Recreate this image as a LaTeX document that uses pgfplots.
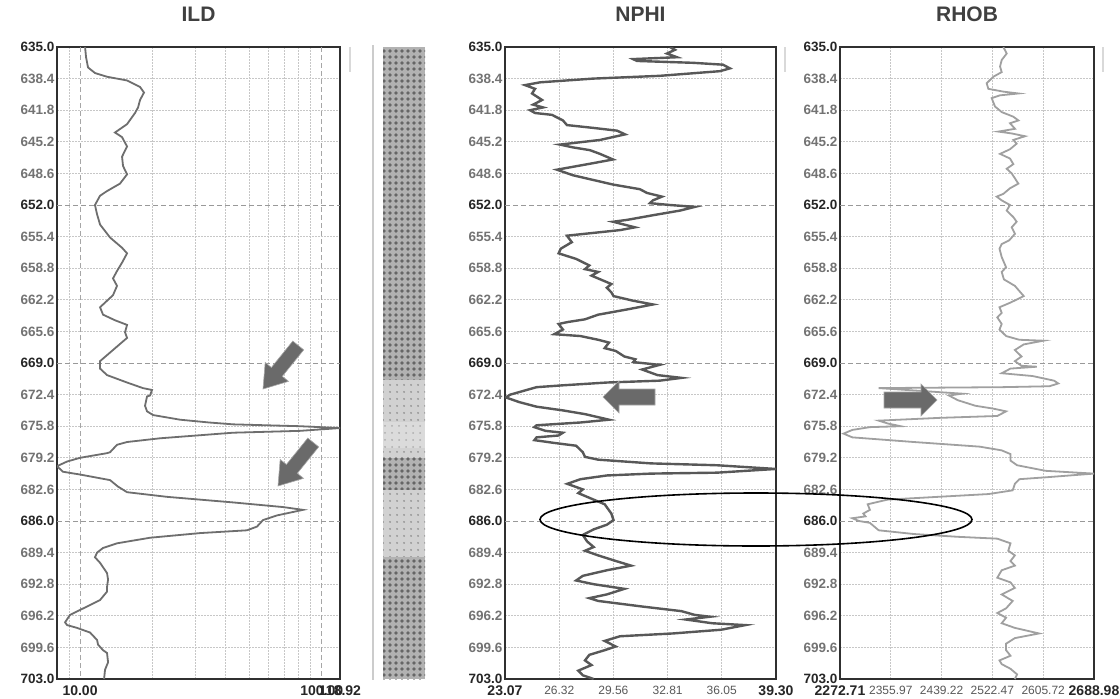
\documentclass[border=0pt]{standalone}
\usepackage{pgfplots}
\pgfplotsset{compat=1.18}
\usepackage{fontspec}
\setmainfont{Liberation Sans}
\usetikzlibrary{patterns.meta}
\definecolor{framec}{HTML}{303030}
\definecolor{ildc}{HTML}{6E6E6E}
\definecolor{nphic}{HTML}{585858}
\definecolor{rhobc}{HTML}{A0A0A0}
\definecolor{arrowc}{HTML}{6A6A6A}

\newcommand{\dk}[1]{{\color{black!85}#1}}
\newcommand{\bl}[1]{{\bfseries\fontsize{14}{16}\selectfont\color{black!85}#1}}
\newcommand{\rg}[1]{{\mdseries\fontsize{12}{14}\selectfont\color{black!65}#1}}

\pgfplotsset{
  welllog/.style={
    scale only axis, anchor=north west, height=632pt,
    y dir=reverse, ymin=635, ymax=703,
    axis line style={framec, line width=1.8pt},
    major tick length=0pt, minor tick length=0pt,
    ytick={635,638.4,641.8,645.2,648.6,655.4,658.8,662.2,665.6,672.4,675.8,679.2,682.6,689.4,692.8,696.2,699.6,703},
    yticklabels={\dk{635.0},638.4,641.8,645.2,648.6,655.4,658.8,662.2,665.6,672.4,675.8,679.2,682.6,689.4,692.8,696.2,699.6,\dk{703.0}},
    extra y ticks={652,669,686},
    extra y tick labels={\dk{652.0},\dk{669.0},\dk{686.0}},
    extra y tick style={grid=major, major grid style={black!40, line width=1pt, dash pattern=on 5pt off 3pt}},
    ymajorgrids,
    major grid style={black!22, line width=0.8pt, dash pattern=on 1.5pt off 1.5pt},
    minor grid style={black!22, line width=0.8pt, dash pattern=on 1.5pt off 1.5pt},
    /pgf/number format/assume math mode=true,
    yticklabel style={font=\bfseries\fontsize{13.5}{15}\selectfont, text=black!55, inner sep=2.5pt},
    xticklabel style={inner sep=6.5pt},
    title style={font=\bfseries\fontsize{21}{24}\selectfont, text=black!75, inner sep=0pt, yshift=19pt},
  }
}

\pgfplotstableread{
v d
10.49 635.0
10.59 636.1
10.79 637.2
11.53 637.8
12.93 638.2
15.65 638.6
17.71 639.3
18.39 639.9
17.71 640.7
17.38 641.5
16.88 642.1
15.65 643.3
13.95 644.2
14.92 644.7
15.65 645.7
14.92 646.8
15.06 647.8
15.65 648.7
14.63 649.7
12.93 650.5
12.10 651.0
11.53 652.0
11.76 653.0
12.10 654.1
13.31 655.5
14.92 656.6
15.65 657.2
14.92 658.2
14.22 659.1
13.69 659.9
14.22 660.7
13.69 661.7
12.10 663.0
12.45 663.8
13.95 664.4
15.65 664.9
15.35 665.7
15.65 666.3
13.69 667.6
12.10 668.8
12.10 669.6
12.93 670.3
15.65 671.1
18.20 671.7
19.85 671.9
19.48 672.5
18.93 672.6
18.57 673.6
18.93 674.2
20.05 674.6
25.93 675.1
34.17 675.4
42.94 675.6
81.25 675.8
118.9 676.0
81.25 676.3
42.94 676.5
21.42 677.1
15.65 677.5
14.22 677.8
13.31 678.6
12.93 678.7
10.00 679.2
8.84 679.6
8.03 680.1
8.50 680.7
10.00 681.0
13.31 681.6
14.36 682.3
15.65 682.9
22.90 683.4
42.94 684.0
69.11 684.5
83.60 684.8
65.27 685.4
57.13 685.9
53.95 686.6
49.06 687.0
31.36 687.3
19.48 687.8
14.22 688.4
12.45 688.9
11.76 689.4
11.53 689.9
12.10 690.5
12.93 691.6
13.06 692.3
12.93 693.1
12.93 693.6
12.10 694.5
10.69 695.2
9.09 696.1
8.67 696.9
8.84 697.2
9.72 697.5
11.00 698.0
11.76 698.8
11.87 699.3
12.45 699.9
12.93 700.2
13.06 701.2
12.69 702.0
12.57 703.0
}\ildtable

\pgfplotstableread{
v d
32.95 635.0
33.25 635.3
32.77 635.7
33.37 636.1
30.74 636.3
30.97 636.5
34.33 636.7
36.12 636.9
36.54 637.3
35.94 637.6
32.35 638.1
28.34 638.4
25.17 638.8
24.27 639.1
24.57 639.3
24.87 639.5
24.69 640.0
25.29 640.7
24.75 641.2
25.35 641.5
24.57 641.8
24.87 642.1
25.88 642.3
26.54 642.9
26.78 643.4
28.34 643.7
29.78 644.0
30.26 644.4
28.76 645.0
26.36 645.5
27.14 645.8
28.16 646.1
28.76 646.5
29.54 647.1
28.34 647.5
26.18 648.2
27.14 648.8
28.34 649.3
29.54 649.8
31.15 650.3
31.57 650.7
32.47 651.1
31.93 651.5
31.75 651.8
32.95 652.0
34.45 652.2
33.55 652.6
31.93 653.1
30.38 653.6
29.54 653.8
30.85 654.4
29.96 654.7
26.78 655.3
27.07 656.0
26.41 656.7
26.28 657.2
27.33 657.8
28.12 658.5
27.86 658.9
28.65 659.2
28.25 659.6
28.91 660.1
29.44 660.5
29.17 660.9
29.44 661.4
29.57 661.8
30.75 662.3
31.93 662.7
30.49 663.2
28.65 663.8
27.86 664.3
26.80 664.6
26.28 664.8
26.54 665.4
26.02 665.9
27.59 666.1
28.65 666.5
29.30 666.8
29.04 667.4
29.70 667.7
30.22 668.3
30.88 668.6
30.75 668.9
32.33 669.2
31.28 669.7
32.20 670.3
33.64 670.6
32.33 670.9
29.17 671.1
26.54 671.4
24.96 671.6
23.39 672.4
23.12 672.7
23.91 673.2
24.96 673.7
26.54 674.1
27.86 674.5
29.30 675.1
27.59 675.4
24.96 675.7
24.83 675.9
25.49 676.3
26.54 676.5
26.28 676.8
24.96 677.0
24.83 677.3
26.02 677.6
27.33 677.9
27.73 678.6
27.86 679.1
28.65 679.4
31.80 679.8
35.75 680.0
39.30 680.4
35.75 680.8
31.80 680.9
29.17 681.1
27.59 681.5
26.80 682.0
27.73 682.6
27.46 683.0
28.38 683.7
29.04 684.2
29.44 685.2
29.57 685.9
29.17 686.4
28.38 686.9
27.73 687.5
27.99 688.2
28.38 688.8
27.86 689.2
28.65 689.7
29.70 690.3
30.62 690.8
29.17 691.3
27.73 691.9
27.33 692.4
28.38 692.8
30.22 693.3
29.17 693.9
28.12 694.3
28.65 694.6
31.28 695.2
33.64 695.7
34.43 696.1
35.35 696.3
33.90 696.6
35.48 697.0
37.46 697.2
36.01 697.7
33.12 698.1
29.96 698.4
29.04 698.9
29.70 699.5
29.04 699.9
28.12 700.4
27.86 701.0
28.25 701.5
27.46 702.1
27.73 702.6
28.38 703.0
}\nphitable

\pgfplotstableread{
v d
2540.4 635.0
2545.9 635.7
2537.7 636.4
2535.0 637.1
2537.7 637.7
2524.0 638.2
2513.1 638.9
2515.8 639.5
2540.4 639.8
2565.0 640.0
2535.0 640.2
2521.3 640.5
2526.7 641.4
2537.7 642.0
2556.8 642.5
2565.0 642.9
2551.3 643.2
2559.5 643.8
2532.2 644.1
2554.1 644.3
2576.0 644.6
2556.8 645.0
2562.2 645.4
2551.3 646.0
2535.0 646.5
2551.3 647.0
2556.8 647.6
2545.9 648.1
2554.1 648.6
2565.0 649.7
2551.3 650.2
2540.4 650.8
2529.5 651.1
2537.7 651.5
2551.3 652.0
2545.9 652.6
2556.8 653.3
2562.2 653.8
2554.1 654.4
2559.5 655.1
2550.0 655.8
2537.7 656.2
2534.1 656.7
2537.7 657.6
2544.9 658.7
2537.7 659.2
2541.3 660.0
2559.3 660.7
2573.8 661.8
2552.1 662.5
2534.1 663.0
2537.7 663.6
2530.5 664.1
2537.7 664.8
2534.1 665.4
2544.9 666.1
2566.6 666.5
2606.1 666.6
2573.8 667.0
2559.3 667.6
2570.2 668.3
2559.3 668.8
2570.2 669.3
2595.4 669.4
2552.1 669.6
2537.7 670.1
2588.2 670.4
2623.5 670.9
2630.4 671.2
2616.0 671.5
2537.7 671.6
2336.1 671.7
2472.9 672.3
2451.3 672.5
2465.7 673.0
2494.5 673.6
2523.3 673.9
2544.9 674.2
2530.5 674.7
2436.9 674.9
2336.1 675.2
2350.5 675.5
2372.1 675.8
2321.7 675.9
2292.9 676.2
2278.5 676.6
2292.9 677.0
2393.7 677.5
2501.7 678.0
2537.7 678.4
2552.1 678.8
2552.1 679.5
2562.9 680.0
2609.7 680.6
2688.9 680.9
2609.7 681.3
2566.6 681.5
2559.3 682.0
2555.7 682.7
2516.1 683.1
2350.5 683.7
2318.1 684.2
2321.7 684.8
2310.9 685.2
2314.5 685.5
2292.9 685.7
2303.7 686.0
2321.7 686.2
2328.9 686.6
2336.1 687.0
2393.7 687.4
2465.7 687.7
2530.5 687.9
2552.1 688.4
2548.5 689.2
2559.3 689.7
2552.1 690.3
2559.3 690.8
2537.7 691.3
2530.5 692.1
2552.1 692.6
2559.3 693.2
2537.7 693.9
2555.7 694.6
2544.9 695.4
2530.5 695.9
2544.9 696.4
2537.7 697.0
2559.3 697.5
2598.9 698.1
2559.3 698.6
2544.9 699.2
2544.9 699.9
2552.1 700.5
2534.1 701.0
2537.7 701.4
2552.1 701.9
2562.9 702.5
2559.3 703.0
}\rhobtable

\begin{document}
\begin{tikzpicture}
\useasboundingbox (0pt,0pt) rectangle (1120pt,-699pt);
\fill[white] (0pt,0pt) rectangle (1120pt,-699pt);

% faint separator lines
\draw[black!20, line width=1.5pt] (373pt,-45pt) -- (373pt,-680pt);
\draw[black!15, line width=1.2pt] (350pt,-47pt) -- (350pt,-72pt);
\draw[black!15, line width=1.2pt] (785pt,-47pt) -- (785pt,-72pt);
\draw[black!15, line width=1.2pt] (1103pt,-47pt) -- (1103pt,-72pt);

% ---------------- ILD ----------------
\begin{axis}[welllog, at={(57pt,-47pt)}, width=283pt,
  title={ILD},
  xmode=log, xmin=8.03, xmax=118.92,
  xtick={118.92}, xticklabels={\bl{118.92}},
  extra x ticks={10,100}, extra x tick labels={\bl{10.00},\bl{100.00}},
  extra x tick style={grid=major, major grid style={black!35, line width=1pt, dash pattern=on 5pt off 3pt}},
  minor xtick={9,20,30,40,50,60,70,80,90},
  xminorgrids,
]
\addplot[ildc, line width=1.8pt] table[x=v, y=d] {\ildtable};
\end{axis}

% ---------------- Lithology column ----------------
\begin{axis}[scale only axis, anchor=north west, at={(383pt,-47pt)}, width=42pt, height=632pt,
  hide axis, xmin=0, xmax=1, y dir=reverse, ymin=635, ymax=703]
\addplot[draw=none, fill=black!30, postaction={pattern={Dots[distance=6pt, radius=1.9pt]}, pattern color=black!60}] coordinates {(0,635) (1,635) (1,670.8) (0,670.8)} -- cycle;
\addplot[draw=none, fill=black!18, postaction={pattern={Dots[distance=6.5pt, radius=1.1pt]}, pattern color=black!42}] coordinates {(0,670.8) (1,670.8) (1,675.3) (0,675.3)} -- cycle;
\addplot[draw=none, fill=black!14, postaction={pattern={Dots[distance=7pt, radius=1pt]}, pattern color=black!32}] coordinates {(0,675.3) (1,675.3) (1,678.1) (0,678.1)} -- cycle;
\addplot[draw=none, fill=black!18, postaction={pattern={Dots[distance=6.5pt, radius=1.1pt]}, pattern color=black!42}] coordinates {(0,678.1) (1,678.1) (1,679.2) (0,679.2)} -- cycle;
\addplot[draw=none, fill=black!30, postaction={pattern={Dots[distance=6pt, radius=1.9pt]}, pattern color=black!60}] coordinates {(0,679.2) (1,679.2) (1,682.7) (0,682.7)} -- cycle;
\addplot[draw=none, fill=black!18, postaction={pattern={Dots[distance=6.5pt, radius=1.1pt]}, pattern color=black!42}] coordinates {(0,682.7) (1,682.7) (1,689.9) (0,689.9)} -- cycle;
\addplot[draw=none, fill=black!30, postaction={pattern={Dots[distance=6pt, radius=1.9pt]}, pattern color=black!60}] coordinates {(0,689.9) (1,689.9) (1,703) (0,703)} -- cycle;
\end{axis}

% ---------------- NPHI ----------------
\begin{axis}[welllog, at={(505pt,-47pt)}, width=271pt,
  title={NPHI},
  xmin=23.07, xmax=39.30,
  xtick={23.07,26.32,29.56,32.81,36.05,39.30},
  xticklabels={\bl{23.07},\rg{26.32},\rg{29.56},\rg{32.81},\rg{36.05},\bl{39.30}},
  xmajorgrids,
]
\addplot[nphic, line width=2.4pt] table[x=v, y=d] {\nphitable};
\end{axis}

% ---------------- RHOB ----------------
\begin{axis}[welllog, at={(840pt,-47pt)}, width=254pt,
  title={RHOB},
  xmin=2272.71, xmax=2688.98,
  xtick={2272.71,2355.97,2439.22,2522.47,2605.72,2688.98},
  xticklabels={\bl{2272.71},\rg{2355.97},\rg{2439.22},\rg{2522.47},\rg{2605.72},\bl{2688.98}},
  xmajorgrids,
]
\addplot[rhobc, line width=1.8pt] table[x=v, y=d] {\rhobtable};
\end{axis}

% ---------------- annotations ----------------
\begin{scope}[shift={(263pt,-389pt)}, rotate=231]
  \filldraw[fill=arrowc, draw=black!35, line width=0.6pt] (0pt,0pt) -- (-22pt,15pt) -- (-22pt,7pt) -- (-56pt,7pt) -- (-56pt,-7pt) -- (-22pt,-7pt) -- (-22pt,-15pt) -- cycle;
\end{scope}
\begin{scope}[shift={(278pt,-486pt)}, rotate=231]
  \filldraw[fill=arrowc, draw=black!35, line width=0.6pt] (0pt,0pt) -- (-22pt,15pt) -- (-22pt,7pt) -- (-56pt,7pt) -- (-56pt,-7pt) -- (-22pt,-7pt) -- (-22pt,-15pt) -- cycle;
\end{scope}
\begin{scope}[shift={(603pt,-397pt)}, rotate=180]
  \filldraw[fill=arrowc, draw=black!35, line width=0.6pt] (0pt,0pt) -- (-16pt,16pt) -- (-16pt,8pt) -- (-52pt,8pt) -- (-52pt,-8pt) -- (-16pt,-8pt) -- (-16pt,-16pt) -- cycle;
\end{scope}
\begin{scope}[shift={(937pt,-400pt)}]
  \filldraw[fill=arrowc, draw=black!35, line width=0.6pt] (0pt,0pt) -- (-16pt,16pt) -- (-16pt,8pt) -- (-53pt,8pt) -- (-53pt,-8pt) -- (-16pt,-8pt) -- (-16pt,-16pt) -- cycle;
\end{scope}
\draw[black, line width=1.6pt] (756pt,-519.5pt) ellipse [x radius=216pt, y radius=26.5pt];
\end{tikzpicture}
\end{document}
